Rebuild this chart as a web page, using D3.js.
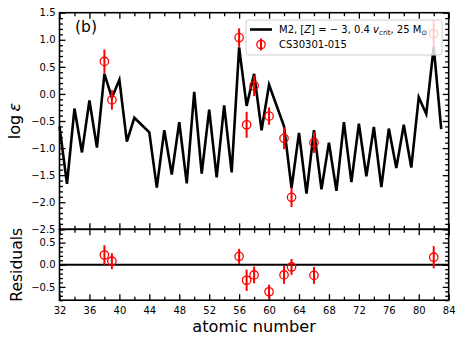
<!DOCTYPE html>
<html><head><meta charset="utf-8">
<script src="https://cdn.jsdelivr.net/npm/d3@7"></script>
<style>html,body{margin:0;padding:0;background:#fff;}svg{display:block;font-family:"DejaVu Sans",sans-serif;}</style>
</head><body>
<svg id="c" width="463" height="344"></svg>
<script>
// ---- data ----
const modelZ = [32,33,34,35,36,37,38,39,40,41,42,44,45,46,47,48,49,50,51,52,53,54,55,56,57,58,59,60,62,63,64,65,66,67,68,69,70,71,72,73,74,75,76,77,78,79,80,81,82,83];
const modelLogEps = [-0.60,-1.66,-0.27,-1.08,-0.12,-0.99,0.37,-0.07,0.26,-0.88,-0.44,-0.71,-1.73,-0.67,-1.49,-0.52,-1.65,0.04,-1.47,-0.29,-1.54,-0.21,-1.45,0.86,-0.22,0.37,-0.67,0.17,-0.60,-1.74,-0.72,-1.84,-0.67,-1.76,-0.90,-1.79,-0.52,-1.63,-0.55,-1.52,-0.61,-1.72,-0.64,-1.37,-0.57,-1.36,-0.06,-0.37,0.87,-0.65];
const obsZ = [38,39,56,57,58,60,62,63,66,82];
const obsLogEps = [0.60,-0.11,1.04,-0.57,0.15,-0.41,-0.82,-1.91,-0.90,1.11];
const obsErr = [0.22,0.18,0.17,0.24,0.19,0.16,0.20,0.18,0.19,0.25];
const residuals = [0.22,0.08,0.19,-0.35,-0.23,-0.61,-0.23,-0.05,-0.24,0.17];
const xTicks = [32,36,40,44,48,52,56,60,64,68,72,76,80,84];
const yTopTicks = [-2.5,-2.0,-1.5,-1.0,-0.5,0.0,0.5,1.0,1.5];
const yResTicks = [-0.5,0.0,0.5];
const modelLabel = "M2";
const starLabel = "CS30301-015";

(function(){
// ---- layout ----
const L = 59.5, R = 448.7, T = 12.7, M = 229.3, B = 300.2;
const svg = d3.select("#c");
const x = d3.scaleLinear().domain([32,84]).range([L,R]);
const yT = d3.scaleLinear().domain([-2.5,1.5]).range([M,T]);
const yR = d3.scaleLinear().domain([-0.8,0.8]).range([B,M]);
const fmt = v => (v<0?"\u2212":"") + Math.abs(v).toFixed(1);
const MAJ = 6, MIN = 3.5, SW = 1.6;

function ticksFor(g, scale, majors, minors, orient, labels) {
  const mk = (vals, len, lab) => {
    let ax;
    if (orient==="bottom") ax = d3.axisBottom(scale);
    else if (orient==="top") ax = d3.axisTop(scale);
    else if (orient==="left") ax = d3.axisLeft(scale);
    else ax = d3.axisRight(scale);
    ax.tickValues(vals).tickSizeInner(-len).tickSizeOuter(0).tickPadding(orient==="bottom"?6.5:4)
      .tickFormat(lab ? (orient==="bottom"? d=>String(d) : fmt) : ()=> "");
    const a = g.append("g").call(ax);
    a.select(".domain").remove();
    a.selectAll("line").attr("stroke","#000").attr("stroke-width",1.3);
    a.selectAll("text").attr("font-family","DejaVu Sans").attr("font-size",10).attr("fill","#000");
    return a;
  };
  mk(minors, MIN, false);
  mk(majors, MAJ, labels);
}
const range = (a,b,s) => { const r=[]; for(let v=a; v<=b+1e-9; v+=s) r.push(+v.toFixed(3)); return r; };
const xMinor = range(32,84,2).filter(v => !xTicks.includes(v));
const yTopMinor = range(-2.5,1.5,0.1).filter(v => !yTopTicks.some(t=>Math.abs(t-v)<1e-6));
const yResMinor = range(-0.8,0.8,0.1).filter(v => !yResTicks.some(t=>Math.abs(t-v)<1e-6));

// ---- top panel ----
const topG = svg.append("g");
ticksFor(topG.append("g").attr("transform",`translate(0,${M})`), x, xTicks, xMinor, "bottom", false);
ticksFor(topG.append("g").attr("transform",`translate(0,${T})`), x, xTicks, xMinor, "top", false);
ticksFor(topG.append("g").attr("transform",`translate(${L},0)`), yT, yTopTicks, yTopMinor, "left", true);
ticksFor(topG.append("g").attr("transform",`translate(${R},0)`), yT, yTopTicks, yTopMinor, "right", false);

const line = d3.line().x((d,i)=>x(modelZ[i])).y(d=>yT(d));
topG.append("path").datum(modelLogEps).attr("d",line).attr("fill","none")
  .attr("stroke","#000").attr("stroke-width",2.6).attr("stroke-linejoin","miter");

const obs = obsZ.map((z,i)=>({z, v:obsLogEps[i], e:obsErr[i], r:residuals[i]}));
topG.selectAll(".eb").data(obs).enter().append("line")
  .attr("x1",d=>x(d.z)).attr("x2",d=>x(d.z)).attr("y1",d=>yT(d.v-d.e)).attr("y2",d=>yT(d.v+d.e))
  .attr("stroke","#ff0000").attr("stroke-width",2);
topG.selectAll(".mk").data(obs).enter().append("circle")
  .attr("cx",d=>x(d.z)).attr("cy",d=>yT(d.v)).attr("r",4.2)
  .attr("fill","none").attr("stroke","#ff0000").attr("stroke-width",1.3);

topG.append("rect").attr("x",L).attr("y",T).attr("width",R-L).attr("height",M-T)
  .attr("fill","none").attr("stroke","#000").attr("stroke-width",SW);

topG.append("text").attr("x",75).attr("y",32).attr("font-size",15.5).text("(b)");

// legend
const lg = topG.append("g");
lg.append("rect").attr("x",246).attr("y",20).attr("width",196).attr("height",35).attr("rx",3)
  .attr("fill","#fff").attr("fill-opacity",0.8).attr("stroke","#d0d0d0").attr("stroke-width",1);
lg.append("line").attr("x1",250).attr("x2",272).attr("y1",29.5).attr("y2",29.5).attr("stroke","#000").attr("stroke-width",2.6);
lg.append("line").attr("x1",261).attr("x2",261).attr("y1",38.5).attr("y2",50.5).attr("stroke","#ff0000").attr("stroke-width",2);
lg.append("circle").attr("cx",261).attr("cy",44.5).attr("r",4.2).attr("fill","none").attr("stroke","#ff0000").attr("stroke-width",1.3);
const t1 = lg.append("text").attr("x",279).attr("y",33).attr("font-size",10);
t1.append("tspan").text(modelLabel + ", [");
t1.append("tspan").attr("font-style","italic").text("Z");
t1.append("tspan").text("] = \u2212 3, 0.4 ");
t1.append("tspan").attr("font-style","italic").text("v");
t1.append("tspan").attr("font-size",7).attr("dy",2).text("crit");
t1.append("tspan").attr("dy",-2).text(", 25 M");
t1.append("tspan").attr("font-size",7).attr("dy",2).text("\u2299");
lg.append("text").attr("x",279).attr("y",48).attr("font-size",10).text(starLabel);

// ---- residual panel ----
const bot = svg.append("g");
ticksFor(bot.append("g").attr("transform",`translate(0,${B})`), x, xTicks, xMinor, "bottom", true);
ticksFor(bot.append("g").attr("transform",`translate(0,${M})`), x, xTicks, xMinor, "top", false);
ticksFor(bot.append("g").attr("transform",`translate(${L},0)`), yR, yResTicks, yResMinor, "left", true);
ticksFor(bot.append("g").attr("transform",`translate(${R},0)`), yR, yResTicks, yResMinor, "right", false);

bot.append("line").attr("x1",L).attr("x2",R).attr("y1",yR(0)).attr("y2",yR(0)).attr("stroke","#000").attr("stroke-width",2);
bot.selectAll(".eb").data(obs).enter().append("line")
  .attr("x1",d=>x(d.z)).attr("x2",d=>x(d.z)).attr("y1",d=>yR(d.r-d.e)).attr("y2",d=>yR(d.r+d.e))
  .attr("stroke","#ff0000").attr("stroke-width",2);
bot.selectAll(".mk").data(obs).enter().append("circle")
  .attr("cx",d=>x(d.z)).attr("cy",d=>yR(d.r)).attr("r",4.2)
  .attr("fill","none").attr("stroke","#ff0000").attr("stroke-width",1.3);
bot.append("rect").attr("x",L).attr("y",M).attr("width",R-L).attr("height",B-M)
  .attr("fill","none").attr("stroke","#000").attr("stroke-width",SW);

// axis labels
svg.append("text").attr("x",(L+R)/2).attr("y",332).attr("text-anchor","middle").attr("font-size",16.2).text("atomic number");
const yl = svg.append("text").attr("transform",`translate(20,${(T+M)/2}) rotate(-90)`).attr("text-anchor","middle").attr("font-size",16);
yl.append("tspan").text("log\u2009");
yl.append("tspan").attr("font-style","italic").text("\u03b5");
svg.append("text").attr("transform",`translate(21.5,${(M+B)/2}) rotate(-90)`).attr("text-anchor","middle").attr("font-size",15.6).text("Residuals");
})();
</script>
</body></html>
